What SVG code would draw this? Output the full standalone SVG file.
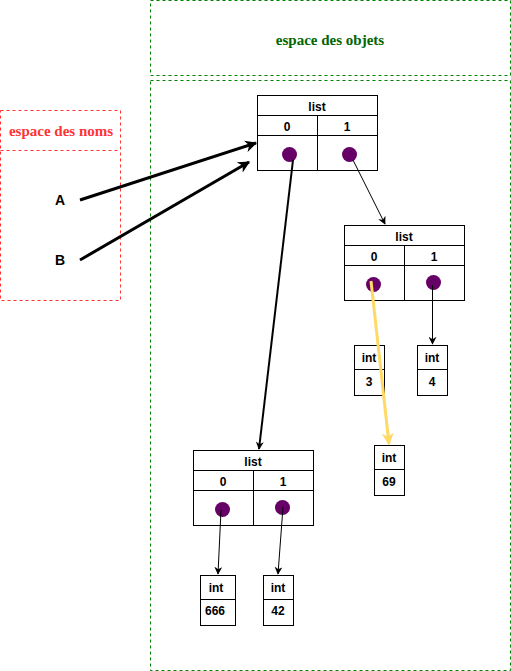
<svg xmlns="http://www.w3.org/2000/svg" width="511" height="671" viewBox="0 0 511 671">
<defs>
<style>
.box{fill:#fff;stroke:#000;stroke-width:1}
.t{font-family:"Liberation Sans",Arial,sans-serif;font-size:12px;font-weight:bold;fill:#000;text-anchor:middle}
.v{font-family:"Liberation Sans",Arial,sans-serif;font-size:14px;font-weight:bold;fill:#000;text-anchor:middle}
.dot{fill:#660066}
.zone-g{fill:none;stroke:#008000;stroke-width:1;stroke-dasharray:3,3}
.zone-r{fill:none;stroke:#FF3333;stroke-width:1;stroke-dasharray:3,3}
.c{fill:none;stroke:#000}
</style>
<marker id="ah" viewBox="0 0 10 10" refX="9" refY="5" markerWidth="4" markerHeight="4" orient="auto" markerUnits="strokeWidth"><path d="M0,0 L10,5 L0,10 L3,5 Z" fill="#000"/></marker>
<marker id="ahs" viewBox="0 0 10 10" refX="9" refY="5" markerWidth="8" markerHeight="8" orient="auto" markerUnits="strokeWidth"><path d="M0,0 L10,5 L0,10 L3,5 Z" fill="#000"/></marker>
<marker id="ahy" viewBox="0 0 10 10" refX="9" refY="5" markerWidth="4" markerHeight="4" orient="auto" markerUnits="strokeWidth"><path d="M0,0 L10,5 L0,10 L3,5 Z" fill="#FFD966"/></marker>
</defs>
<g id="zone-objets">
<rect class="zone-g" x="150.5" y="0.5" width="360" height="75"/>
<text x="330" y="45" style="font-family:'Liberation Serif',serif;font-size:15px;font-weight:bold;fill:#006600" text-anchor="middle">espace des objets</text>
<rect class="zone-g" x="150.5" y="80.5" width="360" height="590"/>
</g>
<g id="zone-noms">
<rect class="zone-r" x="0.5" y="110.5" width="120" height="190"/>
<line class="zone-r" x1="0.5" y1="150.5" x2="120.5" y2="150.5"/>
<text x="61" y="136" style="font-family:'Liberation Serif',serif;font-size:15px;font-weight:bold;fill:#FF3333" text-anchor="middle">espace des noms</text>
</g>
<g id="var-A"><text class="v" x="60" y="205">A</text></g>
<g id="var-B"><text class="v" x="60" y="265">B</text></g>
<g id="list1">
<rect class="box" x="257.5" y="95.5" width="120" height="75"/>
<line class="c" x1="257.5" y1="115.5" x2="377.5" y2="115.5"/>
<line class="c" x1="257.5" y1="135.5" x2="377.5" y2="135.5"/>
<line class="c" x1="317.5" y1="115.5" x2="317.5" y2="170.5"/>
<text class="t" x="317" y="111">list</text>
<text class="t" x="287" y="131">0</text>
<text class="t" x="347" y="131">1</text>
<circle class="dot" cx="289.5" cy="154.5" r="7.5"/>
<circle class="dot" cx="349.5" cy="154.5" r="7.5"/>
</g>
<g id="list2">
<rect class="box" x="344.5" y="225.5" width="120" height="75"/>
<line class="c" x1="344.5" y1="245.5" x2="464.5" y2="245.5"/>
<line class="c" x1="344.5" y1="265.5" x2="464.5" y2="265.5"/>
<line class="c" x1="404.5" y1="245.5" x2="404.5" y2="300.5"/>
<text class="t" x="404" y="241">list</text>
<text class="t" x="374" y="261">0</text>
<text class="t" x="434" y="261">1</text>
<circle class="dot" cx="373.5" cy="284.5" r="7.5"/>
<circle class="dot" cx="433.5" cy="282.5" r="7.5"/>
</g>
<g id="list3">
<rect class="box" x="193.5" y="450.5" width="120" height="75"/>
<line class="c" x1="193.5" y1="470.5" x2="313.5" y2="470.5"/>
<line class="c" x1="193.5" y1="490.5" x2="313.5" y2="490.5"/>
<line class="c" x1="253.5" y1="470.5" x2="253.5" y2="525.5"/>
<text class="t" x="253" y="466">list</text>
<text class="t" x="223" y="486">0</text>
<text class="t" x="283" y="486">1</text>
<circle class="dot" cx="222.5" cy="509.5" r="7.5"/>
<circle class="dot" cx="282.5" cy="507.5" r="7.5"/>
</g>
<g id="int3">
<rect class="box" x="354.5" y="345.5" width="30" height="50"/>
<line class="c" x1="354.5" y1="369.5" x2="384.5" y2="369.5"/>
<text class="t" x="369" y="362">int</text>
<text class="t" x="369" y="386">3</text>
</g>
<g id="int4">
<rect class="box" x="417.5" y="345.5" width="30" height="50"/>
<line class="c" x1="417.5" y1="369.5" x2="447.5" y2="369.5"/>
<text class="t" x="432" y="362">int</text>
<text class="t" x="432" y="386">4</text>
</g>
<g id="int69">
<rect class="box" x="374.5" y="445.5" width="30" height="50"/>
<line class="c" x1="374.5" y1="469.5" x2="404.5" y2="469.5"/>
<text class="t" x="389" y="462">int</text>
<text class="t" x="389" y="486">69</text>
</g>
<g id="int666">
<rect class="box" x="200.5" y="575.5" width="35" height="50"/>
<line class="c" x1="200.5" y1="599.5" x2="235.5" y2="599.5"/>
<text class="t" x="216" y="592">int</text>
<text class="t" x="215" y="615">666</text>
</g>
<g id="int42">
<rect class="box" x="263.5" y="575.5" width="30" height="50"/>
<line class="c" x1="263.5" y1="599.5" x2="293.5" y2="599.5"/>
<text class="t" x="278" y="592">int</text>
<text class="t" x="278" y="615">42</text>
</g>
<g id="connectors">
<line class="c" x1="80" y1="200" x2="256" y2="143" stroke-width="3" marker-end="url(#ah)"/>
<line class="c" x1="80" y1="260" x2="249" y2="162" stroke-width="3" marker-end="url(#ah)"/>
<line class="c" x1="293" y1="160" x2="259" y2="449" stroke-width="2" marker-end="url(#ah)"/>
<line class="c" x1="353" y1="160" x2="385" y2="224" stroke-width="1" marker-end="url(#ahs)"/>
<line fill="none" stroke="#FFD966" x1="371" y1="281" x2="389" y2="444" stroke-width="3" marker-end="url(#ahy)"/>
<line class="c" x1="432.5" y1="285" x2="432.5" y2="344" stroke-width="1" marker-end="url(#ahs)"/>
<line class="c" x1="221" y1="510" x2="218" y2="574" stroke-width="1" marker-end="url(#ahs)"/>
<line class="c" x1="283" y1="507" x2="278" y2="574" stroke-width="1" marker-end="url(#ahs)"/>
</g>
</svg>
